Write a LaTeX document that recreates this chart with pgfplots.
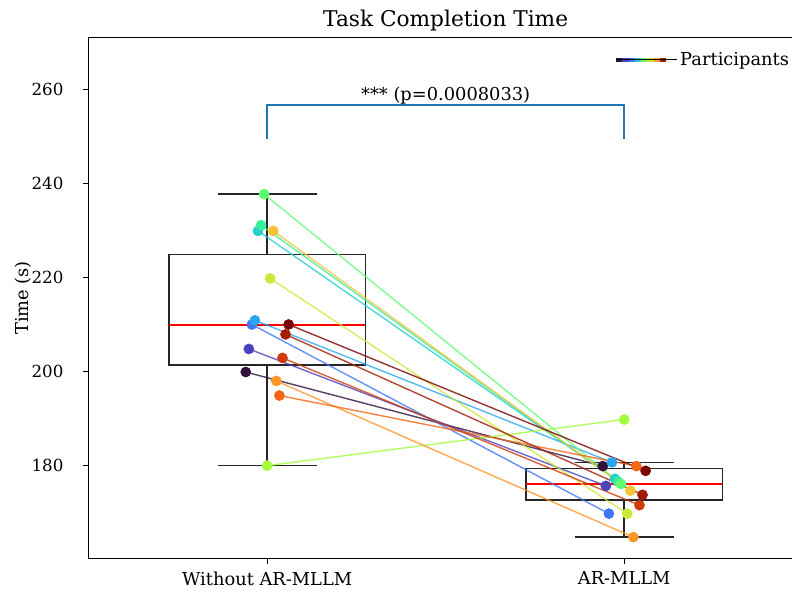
\documentclass[border=0pt]{standalone}
\usepackage{pgfplots}
\pgfplotsset{compat=1.18}
\usetikzlibrary{calc}
\usepackage{fontspec}
\setmainfont{DejaVu Serif}
\definecolor{c0}{rgb}{0.190,0.072,0.232}
\definecolor{c1}{rgb}{0.292,0.268,0.739}
\definecolor{c2}{rgb}{0.250,0.464,0.962}
\definecolor{c3}{rgb}{0.170,0.655,0.943}
\definecolor{c4}{rgb}{0.147,0.817,0.800}
\definecolor{c5}{rgb}{0.218,0.933,0.618}
\definecolor{c6}{rgb}{0.377,0.990,0.447}
\definecolor{c7}{rgb}{0.640,0.990,0.235}
\definecolor{c8}{rgb}{0.800,0.908,0.222}
\definecolor{c9}{rgb}{0.960,0.770,0.210}
\definecolor{c10}{rgb}{0.990,0.590,0.150}
\definecolor{c11}{rgb}{0.950,0.400,0.080}
\definecolor{c12}{rgb}{0.810,0.230,0.040}
\definecolor{c13}{rgb}{0.640,0.110,0.010}
\definecolor{c14}{rgb}{0.480,0.016,0.011}
\definecolor{mplblue}{HTML}{1F77B4}
\pgfplotsset{
  pline/.style={color=#1, line width=0.85pt, opacity=0.8, forget plot},
  ppt/.style={color=#1, only marks, mark=*, mark size=3pt, forget plot},
  bx/.style={black!85, line width=0.9pt, forget plot, line join=miter},
  md/.style={red, line width=1.2pt, forget plot},
}
\begin{document}
\begin{tikzpicture}
\begin{axis}[name=ax,
  width=428.4pt, height=312.5pt, scale only axis,
  xmin=0.5, xmax=2.5, ymin=160.3, ymax=271,
  xtick={1,2}, xticklabels={Without AR-MLLM, AR-MLLM},
  ytick={180,200,220,240,260},
  tick pos=left,
  tick align=outside, major tick length=3.6pt,
  tick style={black, line width=0.6pt},
  axis line style={line width=0.6pt},
  /pgf/number format/assume math mode=true,
  ticklabel style={font=\fontsize{10.7}{12.8}\selectfont},
  yticklabel style={xshift=-8pt, font=\fontsize{10}{12}\selectfont},
  xticklabel style={yshift=-1pt},
  every axis title shift=0pt,
  title={Task Completion Time},
  title style={font=\fontsize{13}{15}\selectfont, at={(axis description cs:0.5,1)}, anchor=base, yshift=6.6pt},
  ylabel={Time (s)},
  ylabel style={font=\fontsize{10.7}{12.8}\selectfont, at={(axis description cs:-0.092,0.5)}, anchor=center},
  legend style={draw=none, fill=none, at={(axis description cs:1,1)}, anchor=north east, xshift=-3pt, yshift=-4.5pt, font=\fontsize{10.7}{12.8}\selectfont},
  legend cell align=left,
]
% box for Without AR-MLLM
\addplot[bx] coordinates {(0.725,201.4) (1.275,201.4) (1.275,224.85) (0.725,224.85) (0.725,201.4) (1.275,201.4)};
\addplot[bx] coordinates {(1,180) (1,201.4)};
\addplot[bx] coordinates {(1,224.85) (1,237.7)};
\addplot[bx] coordinates {(0.8615,180) (1.1385,180)};
\addplot[bx] coordinates {(0.8615,237.7) (1.1385,237.7)};
\addplot[md] coordinates {(0.725,210) (1.275,210)};
% box for AR-MLLM
\addplot[bx] coordinates {(1.725,172.7) (2.275,172.7) (2.275,179.4) (1.725,179.4) (1.725,172.7) (2.275,172.7)};
\addplot[bx] coordinates {(2,164.8) (2,172.7)};
\addplot[bx] coordinates {(2,179.4) (2,180.7)};
\addplot[bx] coordinates {(1.8615,164.8) (2.1385,164.8)};
\addplot[bx] coordinates {(1.8615,180.7) (2.1385,180.7)};
\addplot[md] coordinates {(1.725,176.1) (2.275,176.1)};
% participant lines
\addplot[pline=c0]  coordinates {(0.9400,199.9) (1.9400,179.9)};
\addplot[pline=c1]  coordinates {(0.9486,204.8) (1.9486,175.7)};
\addplot[pline=c2]  coordinates {(0.9571,210.0) (1.9571,169.8)};
\addplot[pline=c3]  coordinates {(0.9657,210.9) (1.9657,180.7)};
\addplot[pline=c4]  coordinates {(0.9743,229.9) (1.9743,177.2)};
\addplot[pline=c5]  coordinates {(0.9829,231.1) (1.9829,176.6)};
\addplot[pline=c6]  coordinates {(0.9914,237.7) (1.9914,176.1)};
\addplot[pline=c7]  coordinates {(1.0000,180.0) (2.0000,189.8)};
\addplot[pline=c8]  coordinates {(1.0086,219.8) (2.0086,169.8)};
\addplot[pline=c9]  coordinates {(1.0171,229.9) (2.0171,174.7)};
\addplot[pline=c10] coordinates {(1.0257,198.0) (2.0257,164.8)};
\addplot[pline=c11] coordinates {(1.0343,194.9) (2.0343,179.9)};
\addplot[pline=c12] coordinates {(1.0429,202.9) (2.0429,171.6)};
\addplot[pline=c13] coordinates {(1.0514,207.9) (2.0514,173.8)};
\addplot[pline=c14] coordinates {(1.0600,210.0) (2.0600,178.9)};
% participant points
\addplot[ppt=c0]  coordinates {(0.9400,199.9) (1.9400,179.9)};
\addplot[ppt=c1]  coordinates {(0.9486,204.8) (1.9486,175.7)};
\addplot[ppt=c2]  coordinates {(0.9571,210.0) (1.9571,169.8)};
\addplot[ppt=c3]  coordinates {(0.9657,210.9) (1.9657,180.7)};
\addplot[ppt=c4]  coordinates {(0.9743,229.9) (1.9743,177.2)};
\addplot[ppt=c5]  coordinates {(0.9829,231.1) (1.9829,176.6)};
\addplot[ppt=c6]  coordinates {(0.9914,237.7) (1.9914,176.1)};
\addplot[ppt=c7]  coordinates {(1.0000,180.0) (2.0000,189.8)};
\addplot[ppt=c8]  coordinates {(1.0086,219.8) (2.0086,169.8)};
\addplot[ppt=c9]  coordinates {(1.0171,229.9) (2.0171,174.7)};
\addplot[ppt=c10] coordinates {(1.0257,198.0) (2.0257,164.8)};
\addplot[ppt=c11] coordinates {(1.0343,194.9) (2.0343,179.9)};
\addplot[ppt=c12] coordinates {(1.0429,202.9) (2.0429,171.6)};
\addplot[ppt=c13] coordinates {(1.0514,207.9) (2.0514,173.8)};
\addplot[ppt=c14] coordinates {(1.0600,210.0) (2.0600,178.9)};
% significance bracket
\addplot[mplblue, line width=1.2pt, forget plot] coordinates {(1,249.4) (1,256.6) (2,256.6) (2,249.4)};
\node[anchor=base, font=\fontsize{10.7}{12.8}\selectfont, inner sep=0pt] at (axis cs:1.5,257.7) {*** (p=0.0008033)};
% legend
\addlegendimage{legend image code/.code={
  \draw[c0, line width=2.2pt] (0pt,0pt) -- (3.9pt,0pt);
  \draw[c1, line width=2.2pt] (3.75pt,0pt) -- (7.65pt,0pt);
  \draw[c2, line width=2.2pt] (7.5pt,0pt) -- (11.4pt,0pt);
  \draw[c4, line width=2.2pt] (11.25pt,0pt) -- (15.15pt,0pt);
  \draw[c6, line width=2.2pt] (15pt,0pt) -- (18.9pt,0pt);
  \draw[c8, line width=2.2pt] (18.75pt,0pt) -- (22.65pt,0pt);
  \draw[c10, line width=2.2pt] (22.5pt,0pt) -- (26.4pt,0pt);
  \draw[c13, line width=2.2pt] (26.25pt,0pt) -- (30pt,0pt);
  \path (0pt,0pt) -- (36.3pt,0pt);
  }}
\addlegendentry{Participants}
\end{axis}
\pgfresetboundingbox
\path[use as bounding box] ($(ax.south west)+(-53.2pt,-22.0pt)$) rectangle ($(ax.north east)+(-6.4pt,22.5pt)$);
\end{tikzpicture}
\end{document}
